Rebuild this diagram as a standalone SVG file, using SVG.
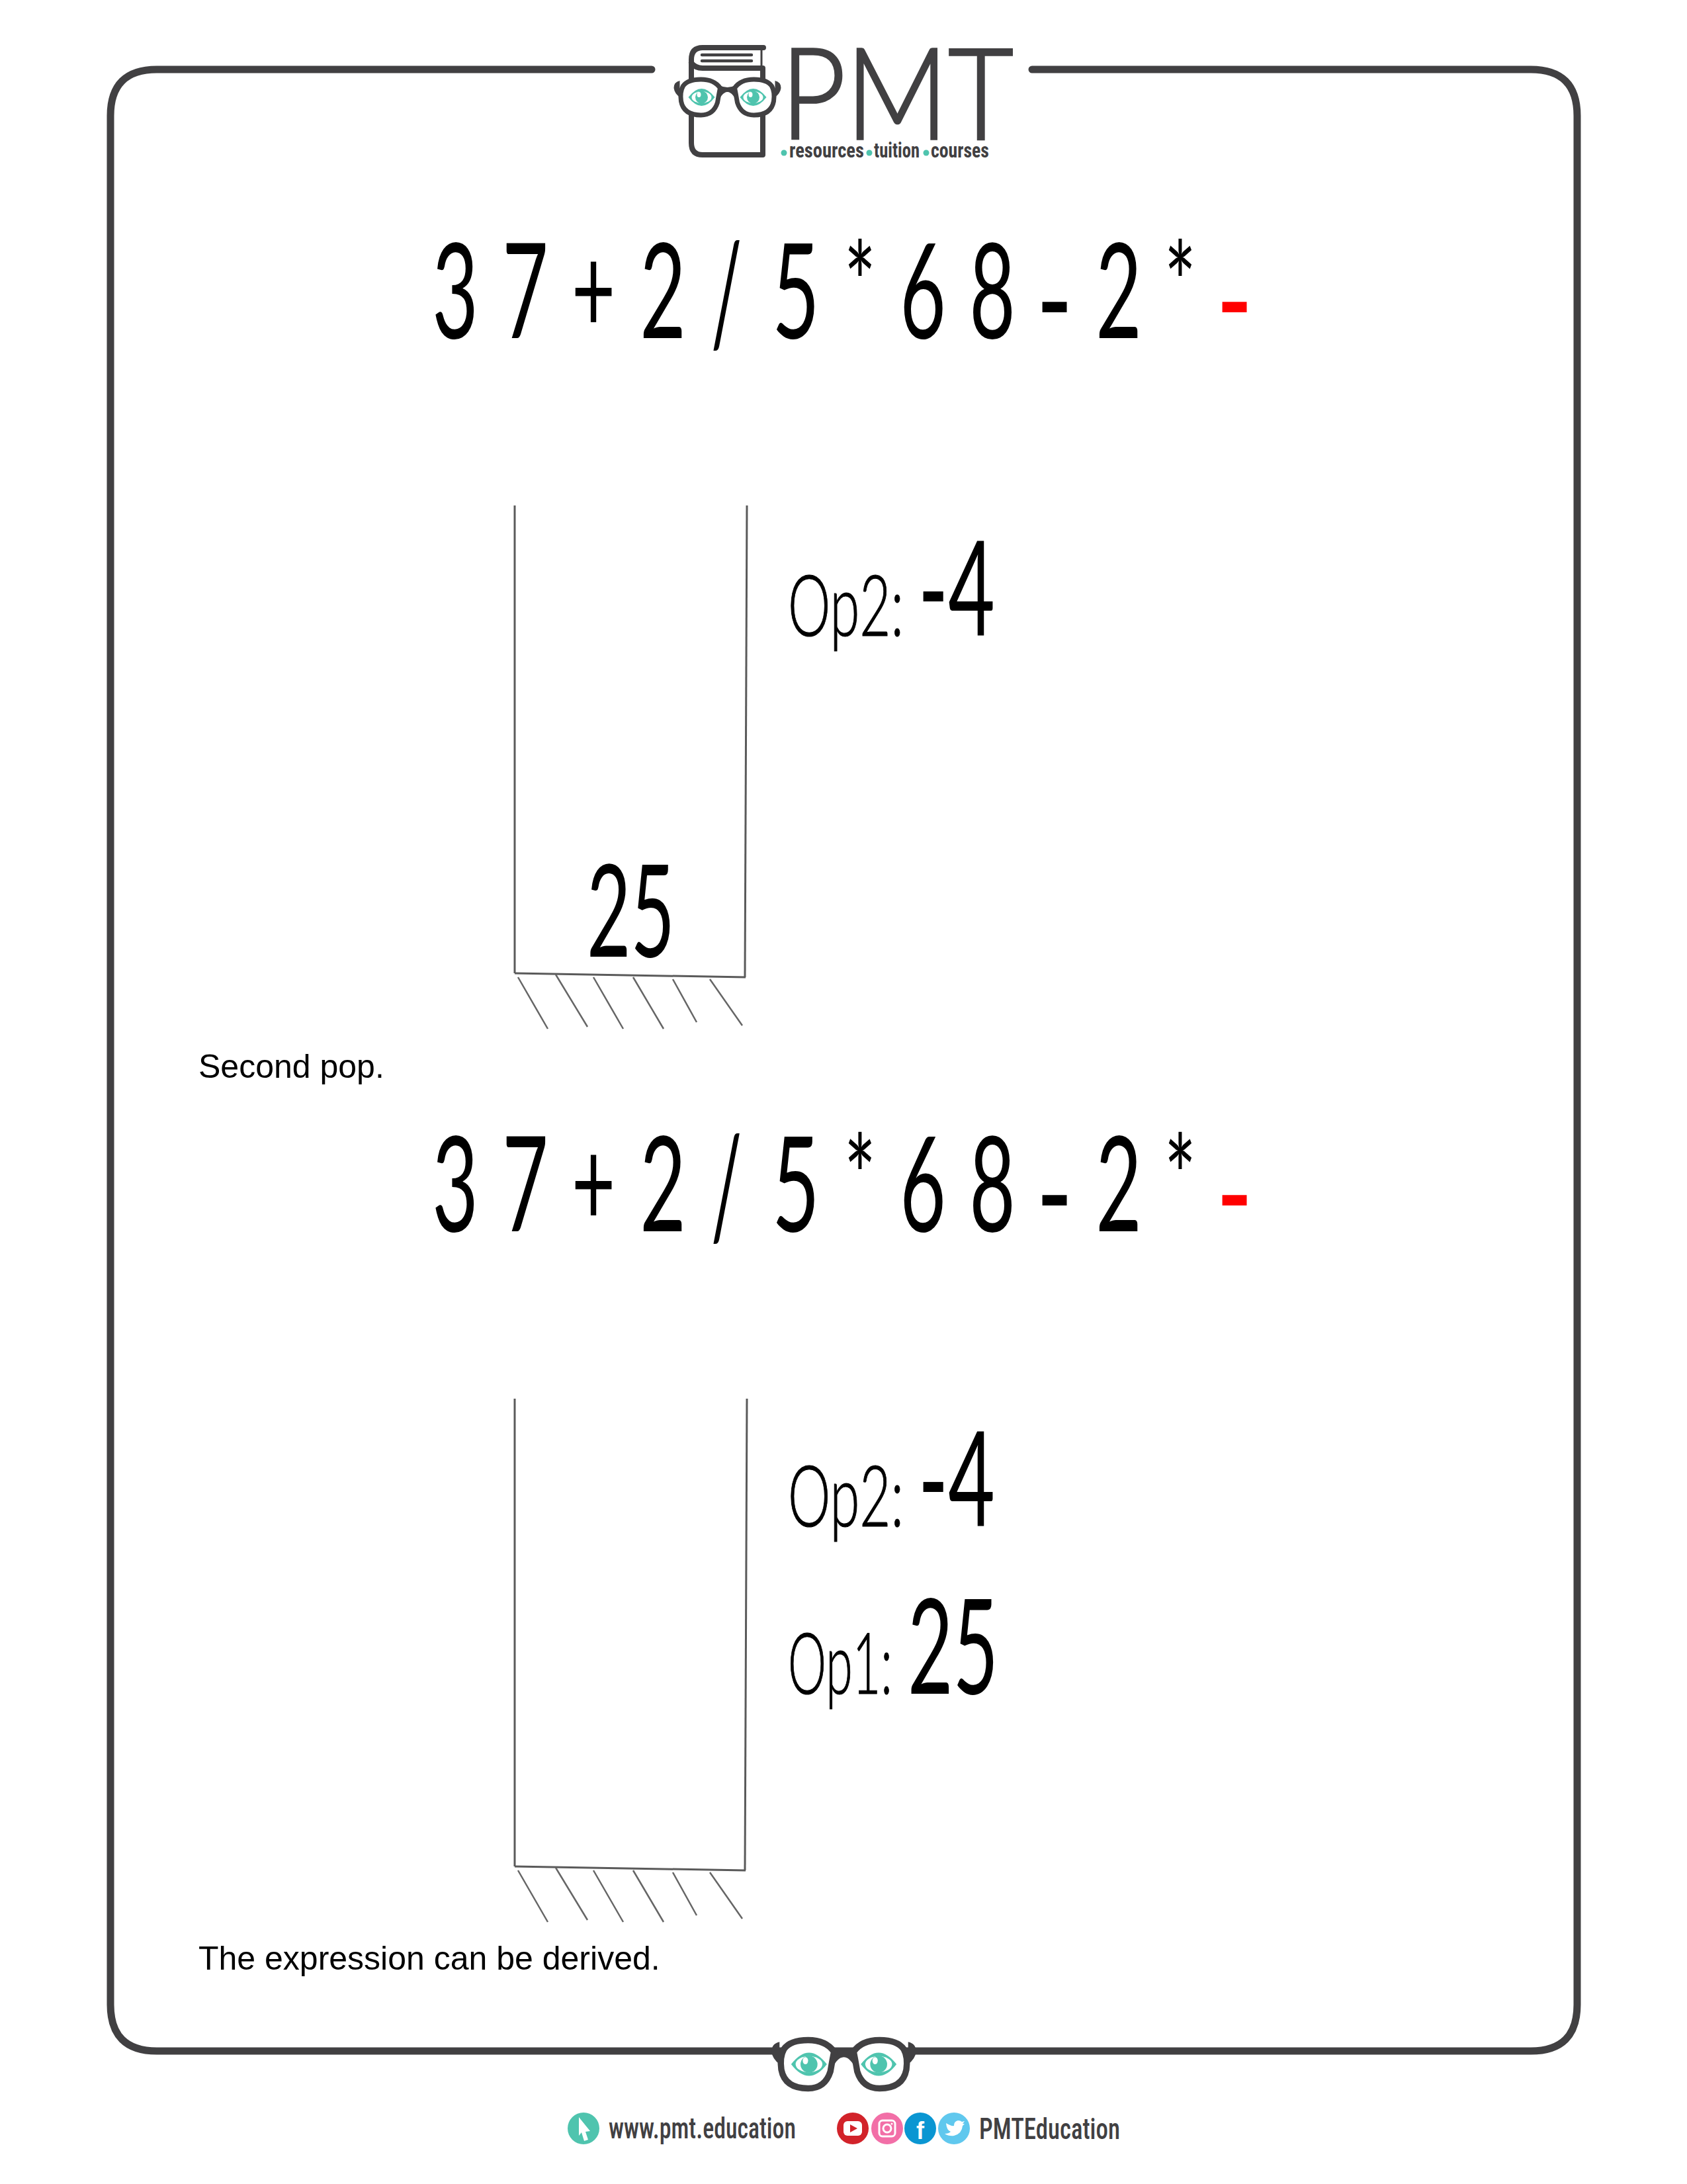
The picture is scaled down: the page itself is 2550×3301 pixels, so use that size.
<svg xmlns="http://www.w3.org/2000/svg" width="2550" height="3301" viewBox="0 0 2550 3301">
<style>
.d{font-family:Lato,"Liberation Sans",sans-serif;font-weight:400;fill:#000;text-anchor:middle}
.l{font-family:Lato,"Liberation Sans",sans-serif;font-weight:300;fill:#000;stroke:#000;stroke-width:1.200}
.b{font-family:"Liberation Sans",Arial,sans-serif;font-size:50px;fill:#000}
.c{font-family:"Roboto Condensed",Lato,"Liberation Sans",sans-serif;font-weight:700;fill:#414042}
.s{fill:none;stroke:#5a5a5a;stroke-width:3}
.h{fill:none;stroke:#666;stroke-width:2.5}
.t{fill:#4fc4ae}
</style>
<defs>
<g id="glasses">
<path d="M-72-25q-9 2-9 11q1 8 9 14zM72-25q9 2 9 11q-1 8-9 14z" fill="#414042"/>
<path d="M-12-18Q0-12 12-18L17 14Q9-8 0-8Q-9-8-17 14Z" fill="#414042"/>
<path d="M-11-14Q-20-27-40-27Q-60-27-67-17Q-72-8-70 6Q-66 27-40 27Q-21 27-15 8Q-13-4-11-14Z" fill="#fff" stroke="#414042" stroke-width="7"/>
<path d="M11-14Q20-27 40-27Q60-27 67-17Q72-8 70 6Q66 27 40 27Q21 27 15 8Q13-4 11-14Z" fill="#fff" stroke="#414042" stroke-width="7"/>
<path d="M-59 0Q-49-13-39-13Q-29-13-19 0Q-29 13-39 13Q-49 13-59 0Z" fill="#4fc4ae"/>
<ellipse cx="-39" cy="0" rx="15" ry="9" fill="#fff"/><circle cx="-39" cy="0" r="9.500" fill="#4fc4ae"/><ellipse cx="-43" cy="-4" rx="3" ry="4" fill="#fff"/>
<path d="M19 0Q29-13 39-13Q49-13 59 0Q49 13 39 13Q29 13 19 0Z" fill="#4fc4ae"/>
<ellipse cx="39" cy="0" rx="15" ry="9" fill="#fff"/><circle cx="39" cy="0" r="9.500" fill="#4fc4ae"/><ellipse cx="35" cy="-4" rx="3" ry="4" fill="#fff"/>
</g>
</defs>
<rect width="2550" height="3301" fill="#fff"/>
<g id="frame">
<path d="M985 105H237Q167 105 167 175V3030Q167 3100 237 3100H2314Q2384 3100 2384 3030V175Q2384 105 2314 105H1560" fill="none" stroke="#414042" stroke-width="11" stroke-linecap="round"/>
</g>
<g id="logo">
<path d="M1154 72H1062Q1045 72 1045 90V216Q1045 234 1062 234H1153V103H1062Q1051 103 1045 95" fill="none" stroke="#414042" stroke-width="8" stroke-linecap="round" stroke-linejoin="round"/>
<path d="M1151 76V99" stroke="#414042" stroke-width="3"/>
<path d="M1061 83H1136M1061 92H1136" stroke="#414042" stroke-width="4.500" stroke-linecap="round"/>
<use href="#glasses" transform="translate(1099.500 147) scale(1)"/>
<text x="1180" y="210" font-family="Lato,'Liberation Sans',sans-serif" font-size="192" font-weight="300" fill="#414042" stroke="#414042" stroke-width="3.500" textLength="352" lengthAdjust="spacingAndGlyphs">PMT</text>
<circle class="t" cx="1185" cy="231" r="4.500"/><circle class="t" cx="1314" cy="231" r="4.500"/><circle class="t" cx="1400" cy="231" r="4.500"/>
<text class="c" x="1193" y="238" font-size="31" textLength="113" lengthAdjust="spacingAndGlyphs">resources</text>
<text class="c" x="1321" y="238" font-size="31" textLength="69" lengthAdjust="spacingAndGlyphs">tuition</text>
<text class="c" x="1407" y="238" font-size="31" textLength="88" lengthAdjust="spacingAndGlyphs">courses</text>
</g>
<g id="expression-1">
<text class="d" font-size="200" transform="translate(688 511) scale(.6 1)">3</text>
<text class="d" font-size="200" transform="translate(794 511) scale(.6 1)">7</text>
<text class="d" font-size="184" transform="translate(897 503) scale(.62 1)">+</text>
<text class="d" font-size="200" transform="translate(1002 511) scale(.6 1)">2</text>
<text class="d" font-size="213" transform="translate(1098 520) scale(.48 1)">/</text>
<text class="d" font-size="200" transform="translate(1203 511) scale(.62 1)">5</text>
<text class="d" font-size="175" transform="translate(1300 492) scale(.65 1)">*</text>
<text class="d" font-size="200" transform="translate(1395 511) scale(.6 1)">6</text>
<text class="d" font-size="200" transform="translate(1500 511) scale(.6 1)">8</text>
<text class="d" font-size="130" transform="translate(1594 526) scale(1.150 1.600)">-</text>
<text class="d" font-size="200" transform="translate(1691 511) scale(.6 1)">2</text>
<text class="d" font-size="175" transform="translate(1784 492) scale(.65 1)">*</text>
<text class="d" font-size="130" transform="translate(1866 526) scale(1.150 1.600)" style="fill:#f00">-</text>
</g>
<g id="stack-1">
<path class="s" d="M778 764V1471"/><path class="s" d="M1129 764L1126 1477"/><path class="s" d="M778 1471L1127 1477"/>
<path class="h" d="M783 1477L828 1555M840 1473L888 1552M897 1477L942 1555M957 1477L1003 1555M1017 1480L1053 1545M1073 1480L1122 1550"/>
<text class="d" font-size="195" textLength="133" lengthAdjust="spacingAndGlyphs" x="953.500" y="1446">25</text>
</g>
<g id="op2-1">
<text class="l" font-size="128" x="1191" y="961" textLength="175" lengthAdjust="spacingAndGlyphs">Op2:</text>
<text class="d" style="text-anchor:start" font-size="199" x="1388" y="961" textLength="116" lengthAdjust="spacingAndGlyphs">-4</text>
</g>
<text id="caption-1" class="b" x="300" y="1629">Second pop.</text>
<g id="expression-2" transform="translate(0 1350)">
<text class="d" font-size="200" transform="translate(688 511) scale(.6 1)">3</text>
<text class="d" font-size="200" transform="translate(794 511) scale(.6 1)">7</text>
<text class="d" font-size="184" transform="translate(897 503) scale(.62 1)">+</text>
<text class="d" font-size="200" transform="translate(1002 511) scale(.6 1)">2</text>
<text class="d" font-size="213" transform="translate(1098 520) scale(.48 1)">/</text>
<text class="d" font-size="200" transform="translate(1203 511) scale(.62 1)">5</text>
<text class="d" font-size="175" transform="translate(1300 492) scale(.65 1)">*</text>
<text class="d" font-size="200" transform="translate(1395 511) scale(.6 1)">6</text>
<text class="d" font-size="200" transform="translate(1500 511) scale(.6 1)">8</text>
<text class="d" font-size="130" transform="translate(1594 526) scale(1.150 1.600)">-</text>
<text class="d" font-size="200" transform="translate(1691 511) scale(.6 1)">2</text>
<text class="d" font-size="175" transform="translate(1784 492) scale(.65 1)">*</text>
<text class="d" font-size="130" transform="translate(1866 526) scale(1.150 1.600)" style="fill:#f00">-</text>
</g>
<g id="stack-2" transform="translate(0 1350)">
<path class="s" d="M778 764V1471"/><path class="s" d="M1129 764L1126 1477"/><path class="s" d="M778 1471L1127 1477"/>
<path class="h" d="M783 1477L828 1555M840 1473L888 1552M897 1477L942 1555M957 1477L1003 1555M1017 1480L1053 1545M1073 1480L1122 1550"/>
</g>
<g id="op2-2">
<text class="l" font-size="128" x="1191" y="2307" textLength="175" lengthAdjust="spacingAndGlyphs">Op2:</text>
<text class="d" style="text-anchor:start" font-size="199" x="1388" y="2307" textLength="116" lengthAdjust="spacingAndGlyphs">-4</text>
</g>
<g id="op1">
<text class="l" font-size="128" x="1191" y="2560" textLength="158" lengthAdjust="spacingAndGlyphs">Op1:</text>
<text class="d" style="text-anchor:start" font-size="199" x="1372" y="2560" textLength="137" lengthAdjust="spacingAndGlyphs">25</text>
</g>
<text id="caption-2" class="b" x="300" y="2977">The expression can be derived.</text>
<g id="footer">
<use href="#glasses" transform="translate(1275.500 3120) scale(1.350)"/>
<circle class="t" cx="882" cy="3217" r="24"/>
<path d="M875 3200L892 3221L885 3222L889 3234L883 3236L879 3223L875 3228Z" fill="#fff"/>
<text class="c" x="920" y="3232" font-size="44" textLength="283" lengthAdjust="spacingAndGlyphs" style="font-weight:500">www.pmt.education</text>
<circle cx="1289" cy="3217" r="24" fill="#d2232a"/>
<rect x="1275" y="3206" width="28" height="22" rx="6" fill="#fff"/><path d="M1285 3211L1296 3217L1285 3223Z" fill="#d2232a"/>
<circle cx="1341" cy="3217" r="24" fill="#f26fa7"/>
<rect x="1329" y="3205" width="24" height="24" rx="5" fill="none" stroke="#fff" stroke-width="3"/><circle cx="1341" cy="3217" r="6" fill="none" stroke="#fff" stroke-width="3"/><circle cx="1348" cy="3210" r="1.500" fill="#fff"/>
<circle cx="1391" cy="3217" r="24" fill="#0a96d2"/>
<text x="1391" y="3233" font-family="'Liberation Sans',sans-serif" font-weight="700" font-size="36" fill="#fff" text-anchor="middle">f</text>
<circle cx="1442" cy="3217" r="24" fill="#60c8ee"/>
<path d="M1430 3209Q1438 3214 1442 3213Q1442 3206 1448 3205Q1452 3205 1454 3207L1458 3206L1455 3210L1458 3210L1455 3213Q1454 3225 1442 3228Q1434 3229 1428 3225Q1434 3225 1437 3222Q1431 3220 1430 3209Z" fill="#fff"/>
<text class="c" x="1480" y="3233" font-size="44" textLength="213" lengthAdjust="spacingAndGlyphs" style="font-weight:500">PMTEducation</text>
</g>
</svg>
